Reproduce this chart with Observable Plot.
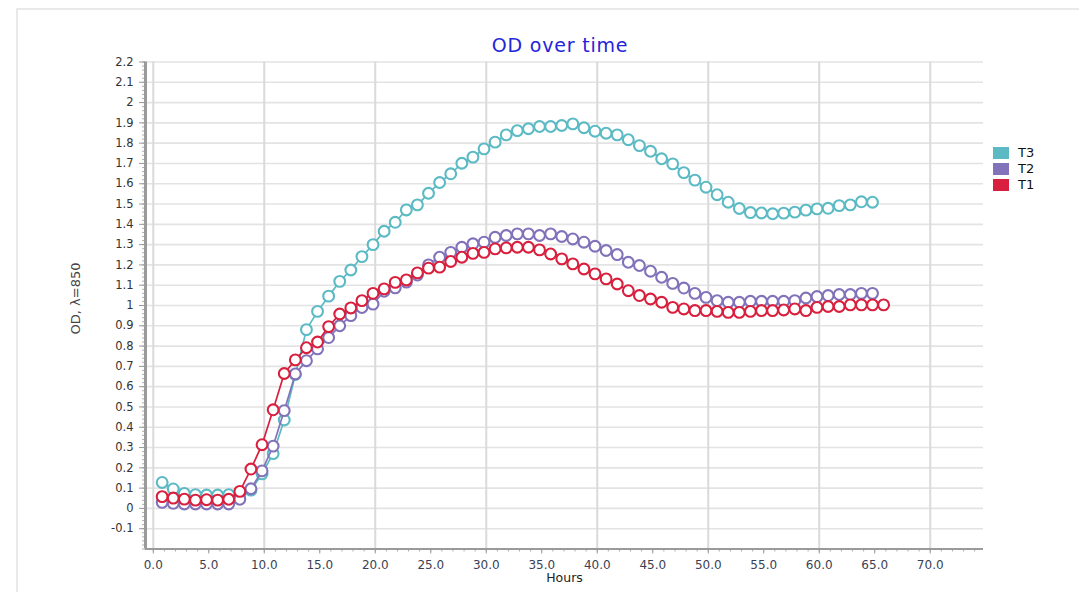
<!DOCTYPE html>
<html>
<head>
<meta charset="utf-8">
<script src="https://cdn.jsdelivr.net/npm/d3@7"></script>
<script src="https://cdn.jsdelivr.net/npm/@observablehq/plot@0.6"></script>
<style>
  body { margin: 0; background: #fff; font-family: "DejaVu Sans", sans-serif; }
  #wrap { position: relative; width: 1079px; height: 612px; overflow: hidden; background: #fff; }
  #frame { position: absolute; left: 16px; top: 8px; width: 1063px; height: 584px;
           border-top: 2px solid #e9e9e9; border-left: 2px solid #e9e9e9; box-sizing: border-box; }
  #title { position: absolute; left: 0; top: 33px; width: 1120px; text-align: center; z-index: 2;
           font-size: 19px; line-height: 24px; color: #2424d8; letter-spacing: 0.8px; }
  #chart { position: absolute; left: 0; top: 50px; z-index: 1; }
  #legend { position: absolute; left: 993px; top: 147px; z-index: 2; }
  .row { position: relative; height: 16px; }
  .sw { position: absolute; left: 0; top: 0; width: 16px; height: 12px; }
  .lab { position: absolute; left: 25px; top: -2px; font-size: 13px; line-height: 16px; color: #111; }
</style>
</head>
<body>
<div id="wrap">
  <div id="frame"></div>
  <div id="chart"></div>
  <div id="title">OD over time</div>
  <div id="legend"></div>
</div>
<script>
// ---- data ----
const times = [0.8,1.8,2.8,3.8,4.8,5.8,6.8,7.8,8.8,9.8,10.8,11.8,12.8,13.8,14.8,15.8,16.8,17.8,18.8,19.8,
  20.8,21.8,22.8,23.8,24.8,25.8,26.8,27.8,28.8,29.8,30.8,31.8,32.8,33.8,34.8,35.8,36.8,37.8,38.8,39.8,
  40.8,41.8,42.8,43.8,44.8,45.8,46.8,47.8,48.8,49.8,50.8,51.8,52.8,53.8,54.8,55.8,56.8,57.8,58.8,59.8,
  60.8,61.8,62.8,63.8,64.8,65.8];

const seriesNames = ["T3", "T2", "T1"];
const seriesColors = ["#5bbac4", "#8272b9", "#d81f3d"];

const t3 = [0.128,0.096,0.074,0.068,0.066,0.066,0.068,0.065,0.090,0.170,
  0.270,0.436,0.660,0.881,0.971,1.046,1.119,1.175,1.241,1.300,
  1.366,1.410,1.471,1.496,1.553,1.606,1.649,1.701,1.731,1.772,
  1.805,1.841,1.862,1.871,1.882,1.882,1.887,1.895,1.876,1.859,
  1.849,1.841,1.817,1.788,1.760,1.723,1.698,1.655,1.618,1.583,
  1.546,1.509,1.478,1.458,1.456,1.452,1.455,1.460,1.470,1.476,
  1.479,1.492,1.496,1.511,1.509];

const t2 = [0.030,0.025,0.022,0.022,0.022,0.022,0.022,0.045,0.097,0.185,
  0.307,0.482,0.663,0.728,0.786,0.842,0.900,0.950,0.990,1.007,
  1.070,1.087,1.115,1.150,1.200,1.238,1.262,1.287,1.304,1.312,
  1.336,1.345,1.353,1.353,1.345,1.353,1.340,1.328,1.312,1.292,
  1.271,1.251,1.213,1.197,1.169,1.139,1.109,1.086,1.060,1.040,
  1.024,1.016,1.016,1.021,1.021,1.021,1.021,1.024,1.037,1.044,
  1.049,1.054,1.054,1.060,1.060];

const t1 = [0.058,0.051,0.046,0.041,0.043,0.041,0.045,0.084,0.194,0.314,
  0.486,0.665,0.732,0.792,0.820,0.896,0.958,0.988,1.024,1.060,
  1.082,1.114,1.126,1.161,1.184,1.189,1.217,1.238,1.257,1.262,
  1.279,1.284,1.287,1.287,1.274,1.254,1.230,1.205,1.180,1.156,
  1.131,1.106,1.073,1.049,1.032,1.016,0.991,0.983,0.975,0.975,
  0.971,0.966,0.966,0.971,0.975,0.975,0.978,0.983,0.975,0.991,
  0.995,0.995,1.003,1.003,1.003,1.003];

const xTicks = [0, 5, 10, 15, 20, 25, 30, 35, 40, 45, 50, 55, 60, 65, 70];
const xGrid = [0, 10, 20, 30, 40, 50, 60, 70];
const yTicks = [-0.1, 0, 0.1, 0.2, 0.3, 0.4, 0.5, 0.6, 0.7, 0.8, 0.9, 1, 1.1, 1.2,
  1.3, 1.4, 1.5, 1.6, 1.7, 1.8, 1.9, 2, 2.1, 2.2];
const xDomain = [-0.7, 74.8];
const yDomain = [-0.2, 2.2];

// ---- build ----
const seriesValues = [t3, t2, t1];
const seriesData = seriesValues.map((vals, k) =>
  vals.map((v, i) => ({t: times[i], v, s: seriesNames[k]})));

const xMinor = d3.range(0, 75, 1);
const yMinor = d3.range(-20, 221, 2).map(d => d / 100);
const fmtY = d => String(Math.round(d * 10) / 10);

const seriesMarks = seriesData.flatMap((d, k) => [
  Plot.line(d, {x: "t", y: "v", stroke: seriesColors[k], strokeWidth: 1.7}),
  Plot.dot(d, {x: "t", y: "v", r: 5.4, stroke: seriesColors[k], fill: "white", strokeWidth: 2.1})
]);

const chart = Plot.plot({
  width: 1079,
  height: 562,
  marginTop: 11.5,
  marginBottom: 63.5,
  marginLeft: 145,
  marginRight: 96,
  x: {domain: xDomain, axis: null},
  y: {domain: yDomain, axis: null},
  style: {fontFamily: "'DejaVu Sans', sans-serif", fontSize: "11.5px", background: "transparent", color: "#444"},
  marks: [
    Plot.gridY(yTicks, {stroke: "#e3e3e3", strokeOpacity: 1, strokeWidth: 1.6}),
    Plot.gridX(xGrid, {stroke: "#dadada", strokeOpacity: 1, strokeWidth: 2}),
    Plot.axisY(yMinor, {tickSize: 3, tickFormat: () => "", stroke: "#b0b0b0", label: null}),
    Plot.axisY(yTicks, {tickSize: 6, tickPadding: 6, tickFormat: fmtY, stroke: "#999", fill: "#333", fontSize: 11.5, label: null}),
    Plot.axisX(xMinor, {tickSize: 3, tickFormat: () => "", stroke: "#aaa", label: null}),
    Plot.axisX(xTicks, {tickSize: 5, tickPadding: 6, tickFormat: d3.format(".1f"), stroke: "#999", fill: "#3a3f55", fontSize: 12, label: null}),
    Plot.ruleX([xDomain[0]], {stroke: "#9a9a9a", strokeWidth: 3}),
    Plot.ruleY([yDomain[0]], {stroke: "#9a9a9a", strokeWidth: 2}),
    ...seriesMarks,
    Plot.text(["Hours"], {frameAnchor: "bottom", dy: 33, fontSize: 12.5, fill: "#222", letterSpacing: 1.2}),
    Plot.text(["OD, λ=850"], {frameAnchor: "left", textAnchor: "middle", rotate: -90, dx: -70, dy: -7, fontSize: 13, fill: "#444"})
  ]
});
document.getElementById("chart").appendChild(chart);

// legend
const legend = document.getElementById("legend");
seriesNames.forEach((name, k) => {
  const row = document.createElement("div");
  row.className = "row";
  const sw = document.createElement("div");
  sw.className = "sw";
  sw.style.background = seriesColors[k];
  const lab = document.createElement("div");
  lab.className = "lab";
  lab.textContent = name;
  row.appendChild(sw);
  row.appendChild(lab);
  legend.appendChild(row);
});
</script>
</body>
</html>
